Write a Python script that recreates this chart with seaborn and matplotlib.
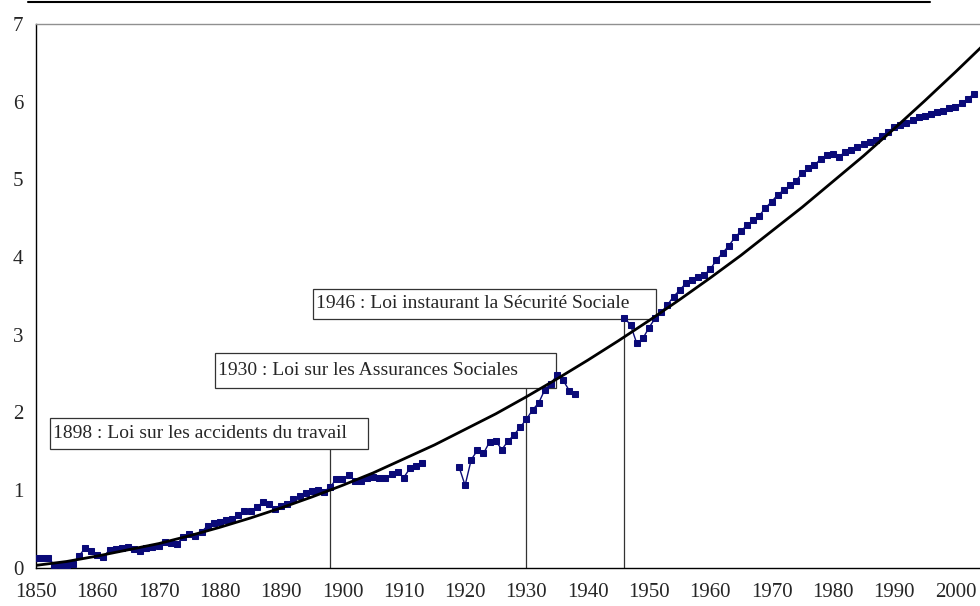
import numpy as np
import pandas as pd
import matplotlib.pyplot as plt
import seaborn as sns
from matplotlib.patches import Rectangle
from matplotlib.lines import Line2D

# series, three periods (gaps during the wars)
years_a = list(range(1850, 1914))
vals_a = [0.13, 0.13, 0.12, 0.04, 0.03, 0.04, 0.05, 0.15, 0.25, 0.21,
          0.16, 0.14, 0.23, 0.24, 0.25, 0.27, 0.24, 0.21, 0.25, 0.27,
          0.28, 0.33, 0.32, 0.30, 0.40, 0.44, 0.41, 0.46, 0.54, 0.57,
          0.59, 0.61, 0.63, 0.68, 0.73, 0.73, 0.78, 0.84, 0.82, 0.76,
          0.79, 0.82, 0.88, 0.92, 0.96, 0.99, 1.00, 0.98, 1.04, 1.14,
          1.14, 1.19, 1.12, 1.11, 1.15, 1.17, 1.16, 1.15, 1.20, 1.23,
          1.16, 1.28, 1.31, 1.35]
years_b = list(range(1919, 1939))
vals_b = [1.30, 1.06, 1.39, 1.51, 1.47, 1.62, 1.63, 1.52, 1.63, 1.71,
          1.81, 1.91, 2.03, 2.12, 2.29, 2.37, 2.48, 2.41, 2.28, 2.24]
years_c = list(range(1946, 2004))
vals_c = [3.22, 3.12, 2.89, 2.95, 3.09, 3.21, 3.29, 3.38, 3.49, 3.57,
          3.66, 3.70, 3.74, 3.77, 3.84, 3.96, 4.05, 4.14, 4.25, 4.33,
          4.41, 4.47, 4.53, 4.63, 4.71, 4.80, 4.86, 4.92, 4.98, 5.08,
          5.14, 5.18, 5.26, 5.31, 5.32, 5.29, 5.35, 5.38, 5.42, 5.45,
          5.48, 5.51, 5.55, 5.61, 5.67, 5.70, 5.72, 5.76, 5.80, 5.81,
          5.84, 5.86, 5.88, 5.91, 5.93, 5.98, 6.03, 6.10]

# trend curve read every 5 years
trend_years = list(range(1850, 2006, 5))
trend_vals = [0.03, 0.08, 0.15, 0.23, 0.31, 0.41, 0.52, 0.64, 0.77, 0.91,
              1.06, 1.22, 1.40, 1.58, 1.78, 1.98, 2.20, 2.43, 2.67, 2.92,
              3.18, 3.45, 3.73, 4.02, 4.33, 4.64, 4.97, 5.30, 5.65, 6.01,
              6.38, 6.76]

# annotations: law year, label, box (x0, x1, y0, y1) in data units
law_years = [1898, 1930, 1946]
law_labels = ["1898 : Loi sur les accidents du travail",
              "1930 : Loi sur les Assurances Sociales",
              "1946 : Loi instaurant la Sécurité Sociale"]
law_boxes = [(1852.3, 1904.2, 1.53, 1.93),
             (1879.2, 1934.8, 2.31, 2.76),
             (1895.2, 1951.1, 3.20, 3.59)]

df = pd.DataFrame({
    'year': years_a + years_b + years_c,
    'val': vals_a + vals_b + vals_c,
    'seg': ['a'] * len(years_a) + ['b'] * len(years_b) + ['c'] * len(years_c),
})
trend = pd.DataFrame({'year': trend_years, 'val': trend_vals})

sns.set_style('white')
plt.rcParams['font.family'] = ['Liberation Serif', 'DejaVu Serif']

fig = plt.figure(figsize=(9.8, 6.06), dpi=100)
ax = fig.add_axes([36 / 980, 38.3 / 606, 1 - 36 / 980, 543.9 / 606])

for yr, lab, (x0, x1, y0, y1) in zip(law_years, law_labels, law_boxes):
    ax.plot([yr, yr], [0, y0], color='#333333', lw=0.9, zorder=2)
    ax.add_patch(Rectangle((x0, y0), x1 - x0, y1 - y0, facecolor='white',
                           edgecolor='#333333', lw=0.9, zorder=2))
    ax.text(x0 + 0.55, (y0 + y1) / 2, lab, fontsize=14, va='center',
            ha='left', zorder=3)

sns.lineplot(data=df, x='year', y='val', units='seg', estimator=None,
             color='#0a0a78', lw=1, marker='s', markersize=5,
             markeredgecolor='#0a0a78', ax=ax, zorder=5)
sns.lineplot(data=trend, x='year', y='val', color='black', lw=2, ax=ax, zorder=6)

ax.set_xlim(1850, 2004)
ax.set_ylim(0, 7)
ax.set_xticks(range(1850, 2001, 10))
ax.set_yticks(range(0, 8))
ax.set_xlabel('')
ax.set_ylabel('')
ax.tick_params(axis='both', direction='inout', length=10, width=1,
               color='black', labelsize=15)
ax.tick_params(axis='x', pad=6)
ax.tick_params(axis='y', pad=4)
for s in ['left', 'bottom']:
    ax.spines[s].set_color('black')
    ax.spines[s].set_linewidth(1)
ax.spines['top'].set_color('#909090')
ax.spines['top'].set_linewidth(1)
ax.spines['right'].set_visible(False)

# rule under the cropped heading
fig.add_artist(Line2D([28 / 980, 930 / 980], [1 - 1.5 / 606, 1 - 1.5 / 606],
                      color='black', lw=1.5, transform=fig.transFigure))

fig.savefig('out.png', dpi=100)
